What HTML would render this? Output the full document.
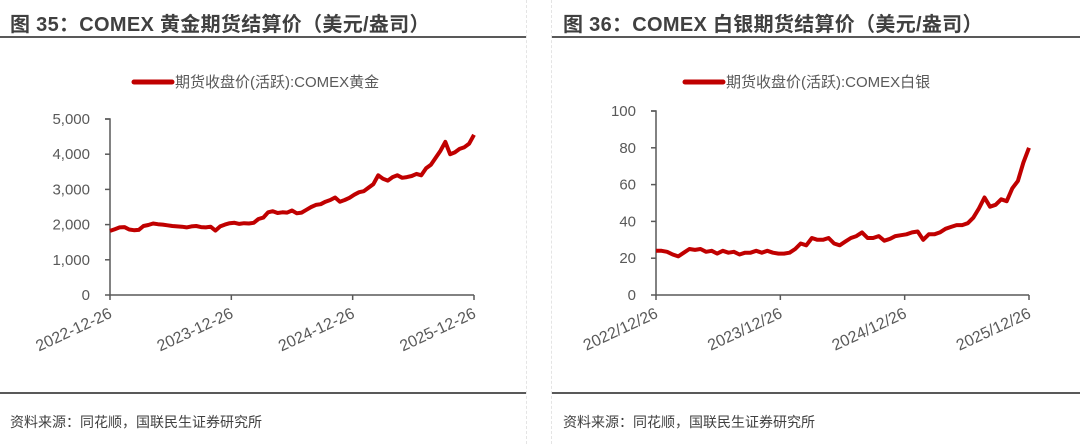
<!DOCTYPE html>
<html><head><meta charset="utf-8">
<style>
body{margin:0;width:1080px;height:444px;background:#fff;position:relative;overflow:hidden;font-family:"Liberation Sans","Noto Sans CJK SC",sans-serif;}
.t{position:absolute;top:8px;font-size:20px;font-weight:bold;color:#404040;white-space:nowrap;letter-spacing:0.3px}
.hl{position:absolute;height:2px;background:#595959}
.vd{position:absolute;top:0;height:444px;border-left:1px dashed #e4e4e4}
.src{position:absolute;top:412px;font-size:14px;color:#404040}
svg{position:absolute;left:0;top:0}
</style></head><body>
<div class="vd" style="left:526px"></div>
<div class="vd" style="left:551px"></div>
<div class="t" style="left:10px">图 35：COMEX 黄金期货结算价（美元/盎司）</div>
<div class="t" style="left:563px">图 36：COMEX 白银期货结算价（美元/盎司）</div>
<div class="hl" style="left:0;top:36px;width:526px"></div>
<div class="hl" style="left:552px;top:36px;width:528px"></div>
<div class="hl" style="left:0;top:392px;width:526px"></div>
<div class="hl" style="left:552px;top:392px;width:528px"></div>
<div class="src" style="left:10px">资料来源：同花顺，国联民生证券研究所</div>
<div class="src" style="left:563px">资料来源：同花顺，国联民生证券研究所</div>
<svg id="chart" width="1080" height="444"></svg>
<script>
const goldTicks=[0,1000,2000,3000,4000,5000];
const goldTickLabels=["0","1,000","2,000","3,000","4,000","5,000"];
const goldDates=["2022-12-26","2023-12-26","2024-12-26","2025-12-26"];
const goldValues=[1820,1870,1920,1930,1860,1840,1850,1960,1990,2030,2010,2000,1980,1960,1950,1940,1920,1950,1960,1930,1920,1940,1830,1950,2000,
2040,2050,2020,2040,2030,2050,2160,2200,2350,2380,2330,2350,2340,2400,2320,2340,2420,2500,2560,2580,2650,2700,2770,2650,
2700,2760,2850,2920,2950,3050,3150,3400,3300,3250,3350,3400,3330,3350,3380,3440,3400,3600,3700,3900,4100,4350,4000,4050,4150,4200,4300,4550];
const silverTicks=[0,20,40,60,80,100];
const silverTickLabels=["0","20","40","60","80","100"];
const silverDates=["2022/12/26","2023/12/26","2024/12/26","2025/12/26"];
const silverValues=[24,24,23.5,22,21,23,25,24.5,25,23.5,24,22.5,24,23,23.5,22,23,23,24,23,24,23,
22.5,22.5,23,25,28,27,31,30,30,31,28,27,29,31,32,34,31,31,32,29.5,
30.5,32,32.5,33,34,34.5,30,33,33,34,36,37,38,38,39,42,47,53,48,49,52,51,58,62,72,80];

const svg=document.getElementById('chart');
const NS='http://www.w3.org/2000/svg';
function mk(tag,attrs){const e=document.createElementNS(NS,tag);for(const k in attrs)e.setAttribute(k,attrs[k]);svg.appendChild(e);return e;}

function drawChart(p,ticks,tickLabels,dates,values,legendText){
  const yMax=ticks[ticks.length-1];
  const sx=i=>p.x0+(p.x1-p.x0)*i/(values.length-1);
  const sy=v=>p.y0-(p.y0-p.y1)*v/yMax;
  const ax=mk('path',{d:`M${p.x0-5},${p.y1}H${p.x0}V${p.y0}H${p.x1}`,stroke:'#595959','stroke-width':1.5,fill:'none'});
  
  
  ticks.forEach((t,i)=>{
    const y=sy(t);
    const tk=mk('line',{x1:p.x0-5,x2:p.x0,y1:y,y2:y,stroke:'#595959','stroke-width':1.5});
    
    
    const tx=mk('text',{x:p.x0-20,y:y+5,'text-anchor':'end','font-size':15,fill:'#595959'});
    tx.textContent=tickLabels[i];
    
    
  });
  dates.forEach((d,i)=>{
    const x=p.x0+(p.x1-p.x0)*i/(dates.length-1);
    const tk=mk('line',{x1:x,x2:x,y1:p.y0,y2:p.y0+5,stroke:'#595959','stroke-width':1.5});
    
    
    const tx=mk('text',{x:x+3,y:p.y0+22,'text-anchor':'end','font-size':16,fill:'#595959',transform:`rotate(-25 ${x+3} ${p.y0+22})`});
    tx.textContent=d;
    
    
  });
  const pts=values.map((v,i)=>sx(i).toFixed(1)+','+sy(v).toFixed(1)).join(' ');
  const ln=mk('polyline',{points:pts,fill:'none',stroke:'#c00000','stroke-width':4,'stroke-linejoin':'round'});
  
  
  const lg=mk('line',{x1:p.lx,x2:p.lx+38,y1:82,y2:82,stroke:'#c00000','stroke-width':5,'stroke-linecap':'round'});
  
  
  const lt=mk('text',{x:p.lx+41,y:87,'font-size':15,fill:'#595959'});
  lt.textContent=legendText;
  
  
}
drawChart({id:'gold',x0:110,x1:474,y0:295,y1:119,lx:134},goldTicks,goldTickLabels,goldDates,goldValues,'期货收盘价(活跃):COMEX黄金');
drawChart({id:'silver',x0:656,x1:1029,y0:295,y1:111,lx:685},silverTicks,silverTickLabels,silverDates,silverValues,'期货收盘价(活跃):COMEX白银');
</script>
</body></html>
